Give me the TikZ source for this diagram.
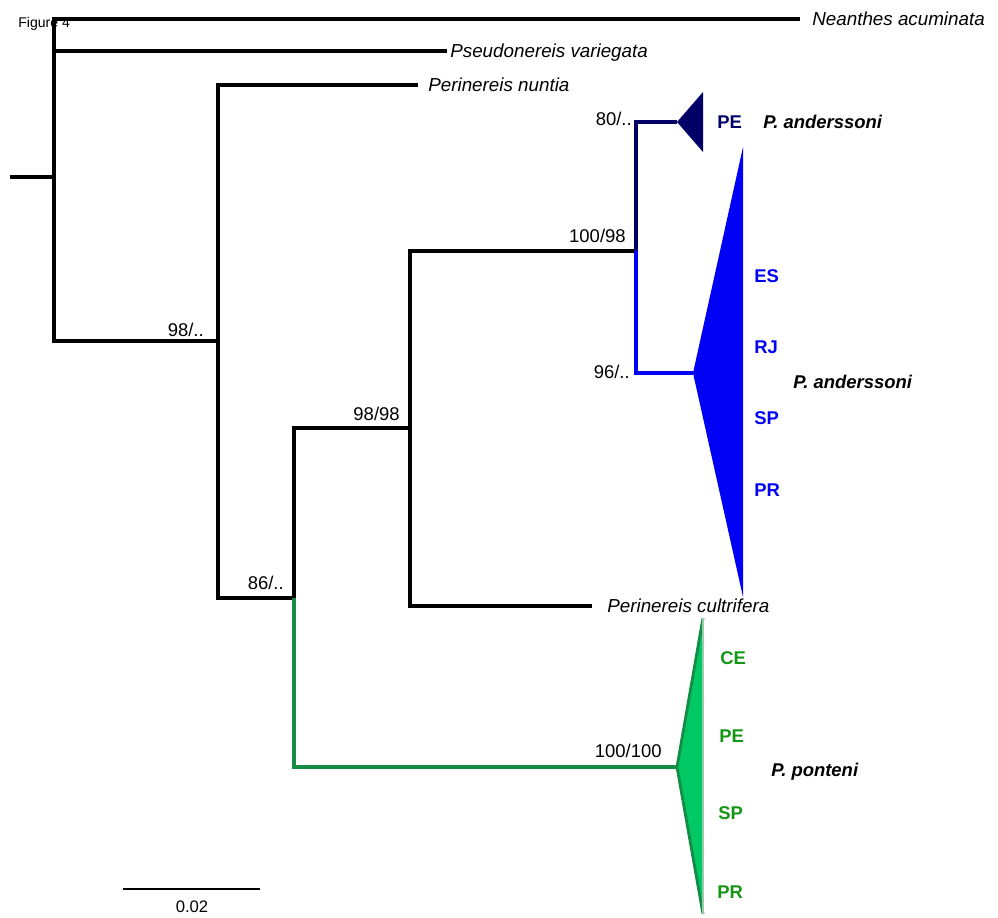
\documentclass[tikz,border=0pt]{standalone}
\usepackage{xcolor}
\usepackage{tikz}
\usepackage{fontspec}
\setmainfont{Liberation Sans}
\usetikzlibrary{positioning}

\definecolor{pnavy}{RGB}{0,0,102}
\definecolor{pblue}{RGB}{0,0,245}
\definecolor{pgreen}{RGB}{0,200,100}
\definecolor{dgreen}{RGB}{20,140,70}
\definecolor{lgreen}{RGB}{150,205,170}
\definecolor{tgreen}{RGB}{20,150,20}

\begin{document}
\begin{tikzpicture}
                [x=0.02cm, y=-0.02cm,
                 br/.style = {line width=2pt},
                 leaf/.style = {anchor=west, inner ysep=0pt, text height=0.72em, text depth=0pt, font=\fontsize{10.7}{12}\selectfont\itshape},
                 boot/.style = {anchor=base east, inner sep=0pt, font=\fontsize{10.5}{12}\selectfont},
                 tag/.style = {anchor=west, inner sep=0pt, text height=0.72em, text depth=0pt, font=\fontsize{10.5}{12}\selectfont\bfseries},
                 sp/.style = {tag, font=\fontsize{10.5}{12}\selectfont\bfseries\itshape}]

                \useasboundingbox (0,0) rectangle (998,917);

                \coordinate (r) at (10,177);
                \coordinate (n0) at (54,177);
                \coordinate (n1) at (218,341);
                \coordinate (n2) at (294,598);
                \coordinate (n3) at (410,428);
                \coordinate (n4) at (636,251);
                \coordinate (a1) at (677,122);
                \coordinate (a2) at (693,373);
                \coordinate (a3) at (677,767);

                \node[leaf, inner xsep=0.24cm] (nea) at (800,19) {Neanthes acuminata};
                \node[leaf, inner xsep=0.06cm] (pse) at (447,51) {Pseudonereis variegata};
                \node[leaf, inner xsep=0.2cm] (nun) at (418,85) {Perinereis nuntia};
                \node[leaf, inner xsep=0.3cm] (cul) at (592,606) {Perinereis cultrifera};

                \node[boot] (b1) at (204,336) {98/..};
                \node[boot] (b2) at (284,589) {86/..};
                \node[boot] (b3) at (400,420) {98/98};
                \node[boot] (b4) at (626,242) {100/98};
                \node[boot] (b5) at (632,125) {80/..};
                \node[boot] (b6) at (630,378) {96/..};
                \node[boot] (b7) at (662,757) {100/100};

                \node[tag, text=pnavy] (t1) at (717,122) {PE};
                \node[sp] (s1) at (763,122) {P. anderssoni};
                \node[tag, text=pblue] (t2) at (754,276) {ES};
                \node[tag, text=pblue] (t3) at (754,347) {RJ};
                \node[tag, text=pblue] (t4) at (754,418) {SP};
                \node[tag, text=pblue] (t5) at (754,490) {PR};
                \node[sp] (s2) at (793,382) {P. anderssoni};
                \node[tag, text=tgreen] (t6) at (720,658) {CE};
                \node[tag, text=tgreen] (t7) at (719,736) {PE};
                \node[tag, text=tgreen] (t8) at (718,813) {SP};
                \node[tag, text=tgreen] (t9) at (717,892) {PR};
                \node[sp] (s3) at (771,770) {P. ponteni};

                \node[anchor=west, inner sep=0pt, font=\fontsize{8}{9}\selectfont] (fig) at (18,24) {Figure 4};

                \draw[br] (r) -- (n0);
                \draw[br] (n0) |- (nea);
                \draw[br] (n0) |- (pse);
                \draw[br] (n0) |- (n1);
                \draw[br] (n1) |- (nun);
                \draw[br] (n1) |- (n2);
                \draw[br] (n2) |- (n3);
                \draw[br, dgreen] (n2) |- (a3);
                \draw[br] (n3) |- (n4);
                \draw[br] (n3) |- (cul);
                \draw[br, pnavy] (n4) |- (a1);
                \draw[br, pblue] (n4) |- (a2);

                \fill[pnavy] (a1) -- (703,92) -- (703,152) -- cycle;
                \fill[pblue] (a2) -- (743,147) -- (743,597) -- cycle;
                \fill[pgreen] (a3) -- (703,618) -- (703,914) -- cycle;
                \draw[dgreen, line width=1.6pt, line join=round] (703,618) -- (a3) -- (703,914);
                \draw[lgreen, line width=0.8pt] (703,618) -- (703,914);

                \coordinate (z1) at (123,889);
                \coordinate (z2) at (260,889);
                \draw[line width=1.1pt] (z1) -- (z2);
                \node[font=\fontsize{9.5}{11}\selectfont] (zl) at (192,907) {0.02};
            \end{tikzpicture}
\end{document}
